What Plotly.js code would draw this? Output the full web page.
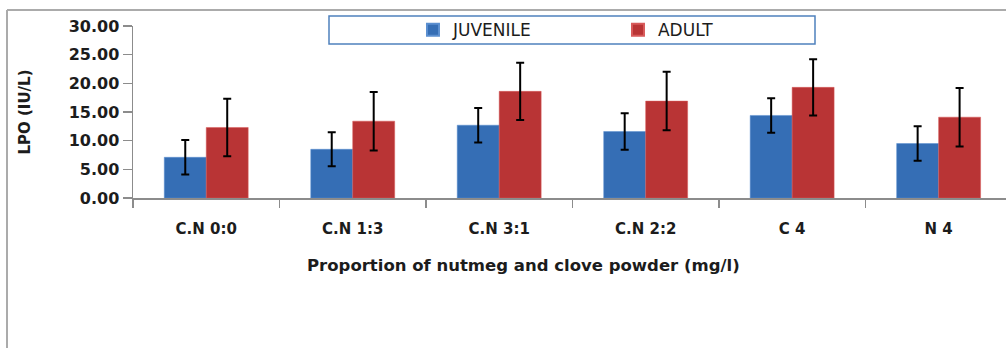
<!DOCTYPE html>
<html>
<head>
<meta charset="utf-8">
<script src="https://cdn.plot.ly/plotly-3.0.1.min.js"></script>
<style>html,body{margin:0;padding:0;background:#fff;}#chart{width:1006px;height:348px;}</style>
</head>
<body>
<div id="chart"></div>
<script>
const categories = ["C.N 0:0", "C.N 1:3", "C.N 3:1", "C.N 2:2", "C 4", "N 4"];
const juvenile = [7.1, 8.5, 12.7, 11.6, 14.4, 9.5];
const juvenileErr = [3.0, 2.95, 3.0, 3.2, 3.0, 3.0];
const adult = [12.3, 13.4, 18.6, 16.9, 19.3, 14.1];
const adultErr = [5.0, 5.1, 5.0, 5.1, 4.9, 5.1];
const yTicks = [0, 5, 10, 15, 20, 25, 30];
const xTitle = "Proportion of nutmeg and clove powder (mg/l)";
const yTitle = "LPO (IU/L)";

const FONT = "'DejaVu Sans', sans-serif";
const TXT = "#1c1c1c";

const traces = [
  {
    type: "bar", name: "JUVENILE", x: categories, y: juvenile,
    marker: {color: "#356EB5", line: {color: "#5B8FD0", width: 0.5}},
    error_y: {type: "data", array: juvenileErr, visible: true, color: "#000", thickness: 2, width: 4}
  },
  {
    type: "bar", name: "ADULT", x: categories, y: adult,
    marker: {color: "#B93435", line: {color: "#D85A5A", width: 0.5}},
    error_y: {type: "data", array: adultErr, visible: true, color: "#000", thickness: 2, width: 4}
  }
];

const layout = {
  width: 1006, height: 348,
  margin: {l: 133, r: 0, t: 26, b: 150},
  paper_bgcolor: "#fff", plot_bgcolor: "#fff",
  barmode: "group", bargap: 0.427, bargroupgap: 0,
  font: {family: FONT, color: TXT, size: 14},
  showlegend: true,
  legend: {
    orientation: "h", x: 0.3207, xanchor: "left", y: 0.975, yanchor: "middle",
    entrywidth: 160, font: {family: FONT, size: 17, color: TXT},
    bgcolor: "rgba(0,0,0,0)", borderwidth: 0, itemsizing: "constant"
  },
  xaxis: {
    type: "category", range: [-0.5, 5.46],
    showline: true, linecolor: "#8C8C8C", linewidth: 1.5,
    ticks: "outside", tickson: "boundaries", ticklen: 8, tickcolor: "#8C8C8C", tickwidth: 1.5,
    ticklabelstandoff: 16,
    showgrid: false, zeroline: false,
    tickfont: {family: FONT, size: 15, color: TXT, weight: "bold"}
  },
  yaxis: {
    range: [0, 30], tickvals: yTicks, ticktext: yTicks.map(v => v.toFixed(2)),
    showline: true, linecolor: "#8C8C8C", linewidth: 1.5,
    ticks: "outside", ticklen: 9, tickcolor: "#8C8C8C", tickwidth: 1.5,
    showgrid: false, zeroline: false,
    tickfont: {family: FONT, size: 16, color: TXT, weight: "bold"},
    title: {text: "<b>" + yTitle + "</b>", font: {family: FONT, size: 15, color: TXT}, standoff: 34}
  },
  annotations: [
    {xref: "paper", yref: "paper", x: (523 - 133) / 873, y: (198 - 265) / 172, xanchor: "center", yanchor: "middle",
     showarrow: false, text: "<b>" + xTitle + "</b>", font: {family: FONT, size: 16.5, color: TXT}}
  ],
  shapes: [
    {type: "line", xref: "paper", yref: "paper", x0: -126/873, x1: 1.01, y0: 1 + 16/172, y1: 1 + 16/172, line: {color: "#ABABAB", width: 2}},
    {type: "line", xref: "paper", yref: "paper", x0: -126/873, x1: -126/873, y0: 1 + 16/172, y1: -150/172, line: {color: "#ABABAB", width: 2}},
    {type: "rect", xref: "paper", yref: "paper", x0: (329-133)/873, x1: (815-133)/873, y0: (198-44)/172, y1: (198-16)/172, line: {color: "#4F81BD", width: 1.5}, fillcolor: "rgba(0,0,0,0)"}
  ]
};

Plotly.newPlot("chart", traces, layout, {displayModeBar: false, staticPlot: true});
</script>
</body>
</html>
